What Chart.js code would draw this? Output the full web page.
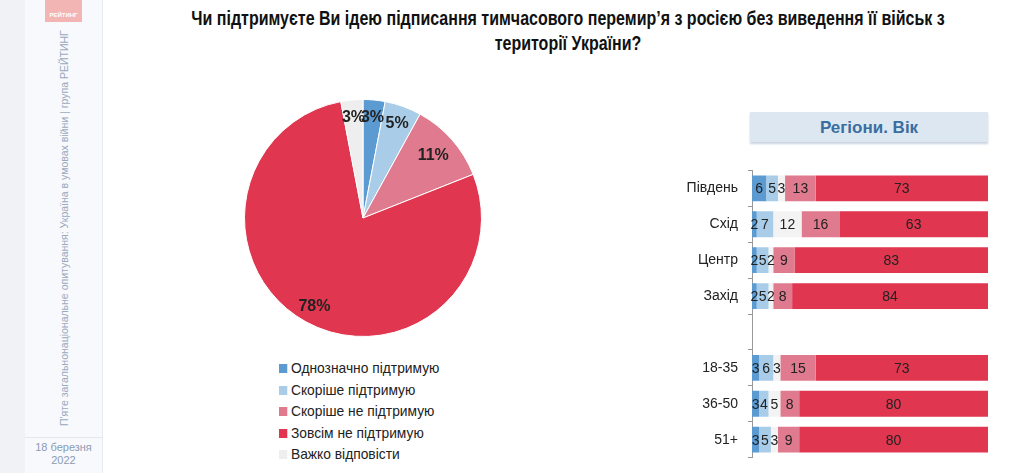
<!DOCTYPE html>
<html>
<head>
<meta charset="utf-8">
<script src="https://cdn.jsdelivr.net/npm/chart.js@4"></script>
<style>
  body { margin: 0; width: 1024px; height: 473px; background: #fff; position: relative; overflow: hidden; font-family: "Liberation Sans", Arial, sans-serif; }
  #strip { position: absolute; left: 0; top: 0; width: 25px; height: 473px; background: #f1f2f5; }
  #side { position: absolute; left: 25px; top: 0; width: 77px; height: 473px; background: #f7f9fc; border-right: 1px solid #e6ebf2; }
  #logo { position: absolute; left: 20px; top: 0; width: 37px; height: 22px; background: #f2b5b3; color: #fff; font-size: 6px; font-weight: bold; text-align: center; line-height: 30px; }
  #vert { position: absolute; left: 39px; top: 236px; width: 380px; transform: translate(-50%, -50%) rotate(-90deg); font-size: 10.5px; color: #9ba8be; white-space: nowrap; text-align: center; }
  #sep { position: absolute; left: 0; top: 437px; width: 77px; height: 1px; background: #e3e8ef; }
  #date { position: absolute; left: 0; top: 441px; width: 77px; text-align: center; font-size: 11px; line-height: 13px; color: #8d9bb4; }
  #title { position: absolute; left: 568px; top: 6px; transform: translateX(-50%) scaleX(0.8); text-align: center; font-weight: bold; font-size: 20px; line-height: 25px; color: #111; white-space: nowrap; }
  #pieBox { position: absolute; left: 244px; top: 99px; width: 238px; height: 238px; }
  #legend { position: absolute; left: 279px; top: 357px; font-size: 15px; color: #222; transform: scaleX(0.92); transform-origin: left top; }
  #legend div { height: 21.5px; line-height: 21.5px; white-space: nowrap; }
  #legend span { display: inline-block; width: 9px; height: 9px; margin-right: 4px; vertical-align: 0px; }
  #head { position: absolute; left: 750px; top: 112px; width: 238px; height: 30px; background: #dde7f2; box-shadow: 0 2px 2px #c9d3de; color: #3a6e9f; font-weight: bold; font-size: 17px; line-height: 31px; text-align: center; }
  #barBox { position: absolute; left: 680px; top: 152px; width: 312px; height: 324px; }
</style>
</head>
<body>
<div id="strip"></div>
<div id="side">
  <div id="logo">РЕЙТИНГ</div>
  <div id="vert">П'яте загальнонаціональне опитування: Україна в умовах війни | група РЕЙТИНГ</div>
  <div id="sep"></div>
  <div id="date">18 березня<br>2022</div>
</div>
<div id="title">Чи підтримуєте Ви ідею підписання тимчасового перемир’я з росією без виведення її військ з<br>території України?</div>
<div id="pieBox"><canvas id="pie"></canvas></div>
<div id="legend"></div>
<div id="head">Регіони. Вік</div>
<div id="barBox"><canvas id="bars"></canvas></div>

<script>
const answers = ['Однозначно підтримую', 'Скоріше підтримую', 'Скоріше не підтримую', 'Зовсім не підтримую', 'Важко відповісти'];
const answerColors = ['#5b9bd2', '#a9cde8', '#e07a8e', '#e0364f', '#eeeeee'];
const totalValues = [3, 5, 11, 78, 3];

const groups = ['Південь', 'Схід', 'Центр', 'Захід', '', '18-35', '36-50', '51+'];
const yesSure = [6, 2, 2, 2, null, 3, 3, 3];
const yesRather = [5, 7, 5, 5, null, 6, 4, 5];
const hardToSay = [3, 12, 2, 2, null, 3, 5, 3];
const noRather = [13, 16, 9, 8, null, 15, 8, 9];
const noSure = [73, 63, 83, 84, null, 73, 80, 80];

// legend
let legendHtml = '';
for (let i = 0; i < answers.length; i++)
    legendHtml += `<div><span style="background:${answerColors[i]}"></span>${answers[i]}</div>`;
document.getElementById('legend').innerHTML = legendHtml;

const pieLabels = {
    id: 'pieLabels',
    afterDatasetsDraw(chart) {
        const ctx = chart.ctx;
        const meta = chart.getDatasetMeta(0);
        ctx.save();
        ctx.font = 'bold 16px "Liberation Sans", Arial';
        ctx.fillStyle = '#222';
        ctx.textAlign = 'center';
        ctx.textBaseline = 'middle';
        meta.data.forEach((arc, i) => {
            const a = (arc.startAngle + arc.endAngle) / 2;
            const r = arc.outerRadius * (totalValues[i] > 8 && totalValues[i] < 20 ? 0.79 : 0.85);
            ctx.fillText(totalValues[i] + '%', arc.x + Math.cos(a) * r, arc.y + Math.sin(a) * r);
        });
        ctx.restore();
    }
};

new Chart(document.getElementById('pie').getContext('2d'), {
    type: 'pie',
    data: {
        labels: answers,
        datasets: [{
            data: totalValues,
            backgroundColor: answerColors,
            borderColor: '#fff',
            borderWidth: 1
        }]
    },
    options: {
        responsive: true,
        maintainAspectRatio: false,
        animation: false,
        events: [],
        plugins: { legend: { display: false }, tooltip: { enabled: false } }
    },
    plugins: [pieLabels]
});

const barLabels = {
    id: 'barLabels',
    afterDatasetsDraw(chart) {
        const ctx = chart.ctx;
        ctx.save();
        ctx.font = '14px "Liberation Sans", Arial';
        ctx.fillStyle = '#222';
        ctx.textAlign = 'center';
        ctx.textBaseline = 'middle';
        chart.data.datasets.forEach((ds, di) => {
            chart.getDatasetMeta(di).data.forEach((bar, i) => {
                const v = ds.data[i];
                if (v == null) return;
                const x0 = Math.min(bar.base, bar.x), x1 = Math.min(Math.max(bar.base, bar.x), chart.chartArea.right);
                ctx.fillText(v, (x0 + x1) / 2, bar.y + 1);
            });
        });
        ctx.restore();
    }
};

const order = [
    [yesSure, 0], [yesRather, 1], [hardToSay, 4], [noRather, 2], [noSure, 3]
];

new Chart(document.getElementById('bars').getContext('2d'), {
    type: 'bar',
    data: {
        labels: groups,
        datasets: order.map(([vals, c]) => ({
            label: answers[c],
            data: vals,
            backgroundColor: answerColors[c] === '#eeeeee' ? '#f3f3f3' : answerColors[c],
            barPercentage: 0.72,
            categoryPercentage: 1
        }))
    },
    options: {
        indexAxis: 'y',
        responsive: true,
        maintainAspectRatio: false,
        animation: false,
        events: [],
        layout: { padding: { top: 0, bottom: 0, right: 4 } },
        scales: {
            x: { stacked: true, min: 0, max: 100, display: false },
            y: {
                stacked: true,
                afterFit(scale) { scale.width = 72; },
                border: { display: true, color: '#999' },
                grid: { drawOnChartArea: false, offset: true, tickLength: 4, color: '#999' },
                ticks: { color: '#222', padding: 10, font: { size: 14, family: '"Liberation Sans", Arial' } }
            }
        },
        plugins: { legend: { display: false }, tooltip: { enabled: false } }
    },
    plugins: [barLabels]
});
</script>
</body>
</html>
